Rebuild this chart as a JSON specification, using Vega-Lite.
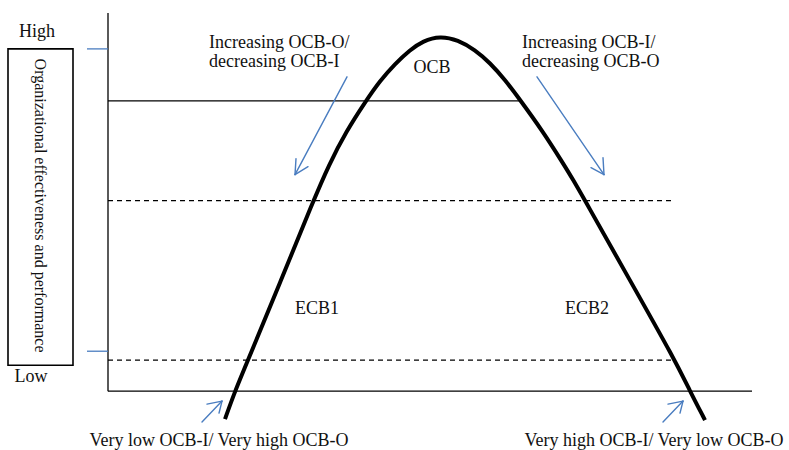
{
  "$schema": "https://vega.github.io/schema/vega-lite/v6.json",
  "width": 789,
  "height": 450,
  "autosize": {"type": "fit", "contains": "padding"},
  "padding": 0,
  "background": "white",
  "config": {"view": {"stroke": null}, "text": {"font": "Liberation Serif", "color": "#111111"}},
  "datasets": {
    "axes": [
      {"x": 108, "y": 13, "x2": 108, "y2": 392},
      {"x": 108, "y": 392, "x2": 752, "y2": 392}
    ],
    "solid": [
      {"x": 108, "y": 101, "x2": 520, "y2": 101}
    ],
    "dashed": [
      {"x": 108, "y": 201, "x2": 673, "y2": 201},
      {"x": 108, "y": 361, "x2": 672, "y2": 361}
    ],
    "ticks": [
      {"x": 87, "y": 49, "x2": 108, "y2": 49},
      {"x": 87, "y": 352, "x2": 108, "y2": 352}
    ],
    "arrows": [
      {"x": 347, "y": 77, "x2": 295, "y2": 175},
      {"x": 296, "y": 159, "x2": 295, "y2": 175},
      {"x": 308, "y": 167, "x2": 295, "y2": 175},
      {"x": 537, "y": 77, "x2": 604, "y2": 175},
      {"x": 603, "y": 158, "x2": 604, "y2": 175},
      {"x": 591, "y": 168, "x2": 604, "y2": 175},
      {"x": 202, "y": 423, "x2": 222, "y2": 402},
      {"x": 207, "y": 405, "x2": 222, "y2": 402},
      {"x": 219, "y": 414, "x2": 222, "y2": 402},
      {"x": 663, "y": 423, "x2": 683, "y2": 402},
      {"x": 668, "y": 405, "x2": 683, "y2": 402},
      {"x": 680, "y": 414, "x2": 683, "y2": 402}
    ],
    "box": [
      {"x": 8, "y": 49, "x2": 73, "y2": 366}
    ],
    "curve": [
      {"x": 225, "y": 420},
      {"x": 235, "y": 392},
      {"x": 248, "y": 361},
      {"x": 281, "y": 281},
      {"x": 313, "y": 202},
      {"x": 329, "y": 165},
      {"x": 346, "y": 132},
      {"x": 366, "y": 101},
      {"x": 380, "y": 81},
      {"x": 395, "y": 64},
      {"x": 410, "y": 50},
      {"x": 423, "y": 41},
      {"x": 440, "y": 36},
      {"x": 458, "y": 40},
      {"x": 475, "y": 50},
      {"x": 490, "y": 63},
      {"x": 505, "y": 80},
      {"x": 520, "y": 100},
      {"x": 543, "y": 132},
      {"x": 562, "y": 162},
      {"x": 573, "y": 180},
      {"x": 585, "y": 201},
      {"x": 630, "y": 281},
      {"x": 675, "y": 361},
      {"x": 690, "y": 392},
      {"x": 705, "y": 421}
    ],
    "centerLabels": [
      {"x": 37, "y": 32, "t": "High"},
      {"x": 31, "y": 378, "t": "Low"},
      {"x": 432, "y": 68, "t": "OCB"},
      {"x": 317, "y": 310, "t": "ECB1"},
      {"x": 587, "y": 310, "t": "ECB2"},
      {"x": 219, "y": 442, "t": "Very low OCB-I/ Very high OCB-O"},
      {"x": 654, "y": 442, "t": "Very high OCB-I/ Very low OCB-O"}
    ],
    "leftLabels": [
      {"x": 209, "y": 43, "t": "Increasing OCB-O/"},
      {"x": 209, "y": 62, "t": "decreasing OCB-I"},
      {"x": 522, "y": 43, "t": "Increasing OCB-I/"},
      {"x": 522, "y": 62, "t": "decreasing OCB-O"}
    ],
    "vertLabel": [
      {"x": 40, "y": 206, "t": "Organizational effectiveness and performance"}
    ]
  },
  "encoding": {
    "x": {"field": "x", "type": "quantitative", "scale": {"domain": [0, 789], "nice": false, "zero": false}, "axis": null},
    "y": {"field": "y", "type": "quantitative", "scale": {"domain": [0, 450], "nice": false, "zero": false, "reverse": true}, "axis": null}
  },
  "layer": [
    {
      "data": {"name": "box"},
      "mark": {"type": "rect", "fill": null, "stroke": "black", "strokeWidth": 1.6},
      "encoding": {"x2": {"field": "x2"}, "y2": {"field": "y2"}}
    },
    {
      "data": {"name": "axes"},
      "mark": {"type": "rule", "color": "black", "strokeWidth": 1.3},
      "encoding": {"x2": {"field": "x2"}, "y2": {"field": "y2"}}
    },
    {
      "data": {"name": "solid"},
      "mark": {"type": "rule", "color": "black", "strokeWidth": 1.3},
      "encoding": {"x2": {"field": "x2"}, "y2": {"field": "y2"}}
    },
    {
      "data": {"name": "dashed"},
      "mark": {"type": "rule", "color": "black", "strokeWidth": 1.3, "strokeDash": [5, 4]},
      "encoding": {"x2": {"field": "x2"}, "y2": {"field": "y2"}}
    },
    {
      "data": {"name": "ticks"},
      "mark": {"type": "rule", "color": "#4a7dc0", "strokeWidth": 1.3},
      "encoding": {"x2": {"field": "x2"}, "y2": {"field": "y2"}}
    },
    {
      "data": {"name": "arrows"},
      "mark": {"type": "rule", "color": "#4a7dc0", "strokeWidth": 1.4, "strokeCap": "round"},
      "encoding": {"x2": {"field": "x2"}, "y2": {"field": "y2"}}
    },
    {
      "data": {"name": "curve"},
      "mark": {"type": "line", "color": "black", "strokeWidth": 4, "interpolate": "basis"},
      "encoding": {}
    },
    {
      "data": {"name": "centerLabels"},
      "mark": {"type": "text", "fontSize": 18, "align": "center", "baseline": "middle"},
      "encoding": {"text": {"field": "t"}}
    },
    {
      "data": {"name": "leftLabels"},
      "mark": {"type": "text", "fontSize": 18, "align": "left", "baseline": "middle"},
      "encoding": {"text": {"field": "t"}}
    },
    {
      "data": {"name": "vertLabel"},
      "mark": {"type": "text", "fontSize": 16, "align": "center", "baseline": "middle", "angle": 90},
      "encoding": {"text": {"field": "t"}}
    }
  ]
}
